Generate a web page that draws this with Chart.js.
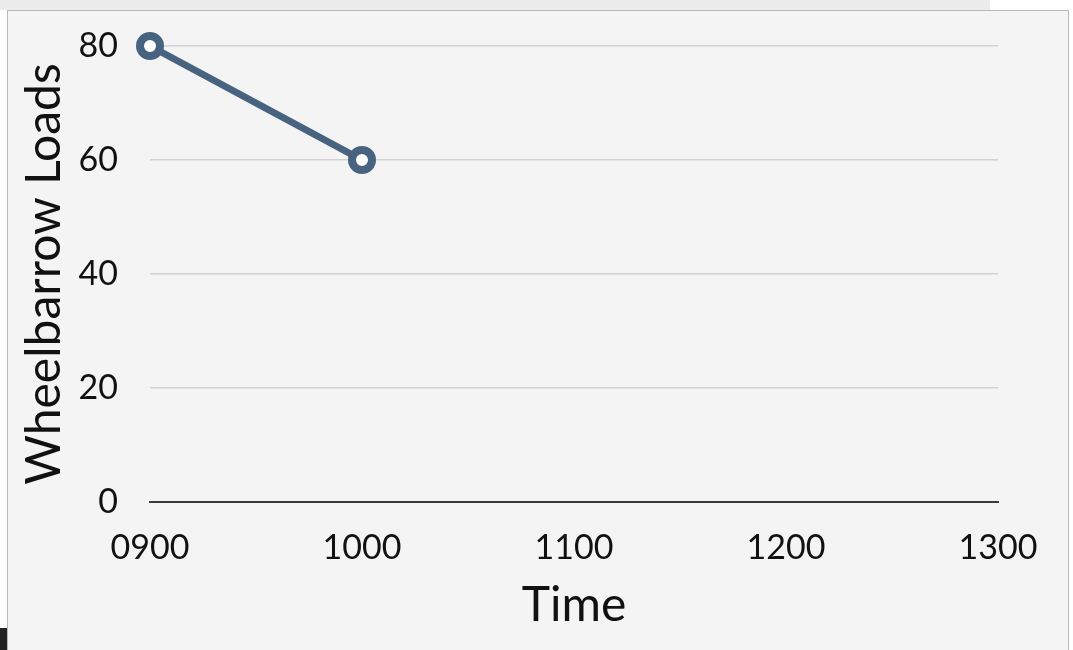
<!DOCTYPE html>
<html>
<head>
<meta charset="utf-8">
<script src="https://cdn.jsdelivr.net/npm/chart.js@4"></script>
<style>
    body { margin: 0; background: #ffffff; width: 1073px; height: 650px; overflow: hidden; position: relative; }
    #frame { position: absolute; left: 7px; top: 10px; width: 1062px; height: 650px; background: #f4f4f4; border: 1px solid #b8b8b8; box-sizing: border-box; }
    #topband { position: absolute; left: 0; top: 0; width: 990px; height: 10px; background: #ececec; }
    #corner { position: absolute; left: 0; top: 628px; width: 7px; height: 22px; background: #222; }
    #wrap { position: absolute; left: 0; top: 0; width: 1073px; height: 650px; }
</style>
</head>
<body>
<div id="topband"></div>
<div id="frame"></div>
<div id="corner"></div>
<div id="wrap"><canvas id="loadsChart"></canvas></div>
<script>
// Wheelbarrow loads over time
const timeLabels = ["0900", "1000", "1100", "1200", "1300"];
const loads = [80, 60, null, null, null];
const yTicks = [0, 20, 40, 60, 80];

const lineColor = "rgb(72, 99, 128)";
const fontFamily = "Lato, 'Open Sans', sans-serif";

new Chart(document.getElementById("loadsChart"), {
    type: "line",
    data: {
        labels: timeLabels,
        datasets: [{
            label: "Wheelbarrow Loads",
            data: loads,
            borderColor: lineColor,
            borderWidth: 7,
            pointRadius: 10,
            pointBorderWidth: 8,
            pointBackgroundColor: "#ffffff",
            pointBorderColor: lineColor,
            tension: 0,
            clip: false
        }]
    },
    options: {
        responsive: true,
        maintainAspectRatio: false,
        animation: false,
        layout: {
            padding: { top: 46, right: 75, bottom: 0, left: 0 }
        },
        plugins: {
            legend: { display: false },
            tooltip: { enabled: false }
        },
        scales: {
            x: {
                offset: false,
                grid: { display: false, drawTicks: false },
                border: { display: true, color: "#3a3a3a", width: 2 },
                ticks: {
                    color: "#111",
                    padding: 26,
                    maxRotation: 0,
                    font: { family: fontFamily, size: 34 }
                },
                title: {
                    display: true,
                    text: "Time",
                    color: "#111",
                    font: { family: fontFamily, size: 48 },
                    padding: { top: 0, bottom: 16 }
                },
                afterFit: function (scale) { scale.height = 148; }
            },
            y: {
                min: 0,
                max: 80,
                afterBuildTicks: function (scale) {
                    scale.ticks = yTicks.map(v => ({ value: v }));
                },
                grid: {
                    color: "#d2d2d2",
                    lineWidth: 1.5,
                    drawTicks: false
                },
                border: { display: false },
                ticks: {
                    color: "#111",
                    padding: 32,
                    font: { family: fontFamily, size: 34 }
                },
                title: {
                    display: true,
                    text: "Wheelbarrow Loads",
                    color: "#111",
                    font: { family: fontFamily, size: 48 },
                    padding: { top: 16, bottom: 0 }
                },
                afterFit: function (scale) {
                    scale.width = 150;
                    // tick padding should not push the plot area down
                    scale.paddingTop = 20;
                    scale.paddingBottom = 20;
                }
            }
        }
    }
});
</script>
</body>
</html>
